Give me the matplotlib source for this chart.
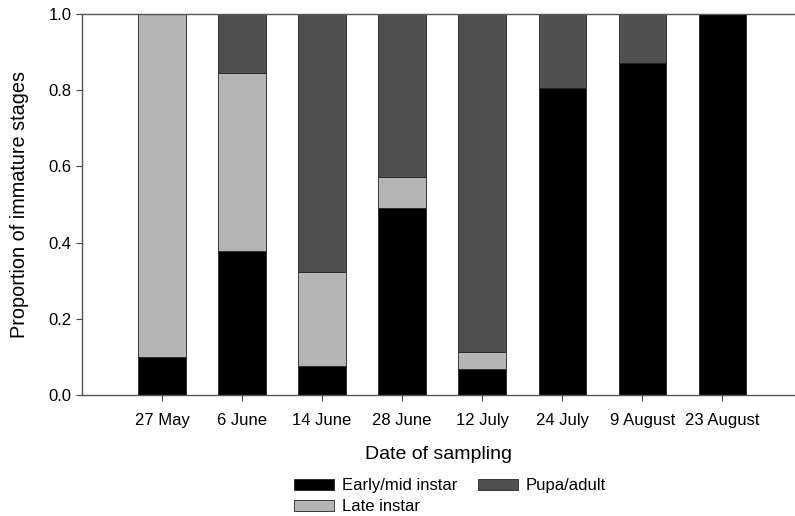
import numpy as np
import matplotlib
matplotlib.use("Agg")
import matplotlib.pyplot as plt

plt.rcParams['font.family'] = ['Liberation Sans', 'DejaVu Sans']

# Sampling dates and stage proportions
dates = ["27 May", "6 June", "14 June", "28 June", "12 July", "24 July", "9 August", "23 August"]
early_mid = [0.10, 0.378, 0.077, 0.49, 0.069, 0.807, 0.872, 1.0]
late = [0.90, 0.466, 0.247, 0.083, 0.044, 0.0, 0.0, 0.0]
pupa_adult = [0.0, 0.156, 0.676, 0.427, 0.887, 0.193, 0.128, 0.0]

fig = plt.figure(figsize=(7.95, 5.16), dpi=100)
ax = fig.add_axes([0.1031, 0.2345, 0.8959, 0.7384])

x = np.arange(len(dates))
w = 0.59
ax.bar(x, early_mid, w, color='#000000', edgecolor='#222222', linewidth=0.6, label='Early/mid instar')
ax.bar(x, late, w, bottom=early_mid, color='#b4b4b4', edgecolor='#222222', linewidth=0.6, label='Late instar')
bottom2 = np.array(early_mid) + np.array(late)
ax.bar(x, pupa_adult, w, bottom=bottom2, color='#505050', edgecolor='#222222', linewidth=0.6, label='Pupa/adult')

ax.set_xlim(-1.0, 7.9)
ax.set_ylim(0, 1.0)
ax.set_yticks([0, 0.2, 0.4, 0.6, 0.8, 1.0])
ax.set_yticklabels(['0.0', '0.2', '0.4', '0.6', '0.8', '1.0'])
ax.set_xticks(x)
ax.set_xticklabels(dates)
ax.tick_params(axis='both', labelsize=12, color='#444444', length=4, width=0.8)
ax.tick_params(axis='x', pad=9)

for s in ['left', 'bottom', 'top']:
    ax.spines[s].set_color('#555555')
    ax.spines[s].set_linewidth(1.0)
ax.spines['right'].set_visible(False)

ax.set_xlabel('Date of sampling', fontsize=14, labelpad=13)
ax.set_ylabel('Proportion of immature stages', fontsize=14.3, labelpad=14)

fig.legend(loc='center', bbox_to_anchor=(0.566, 0.038), ncol=2, frameon=False,
           fontsize=12, handlelength=2.4, handleheight=0.6, handletextpad=0.5,
           columnspacing=1.2, labelspacing=0.35)

fig.savefig('out.png', dpi=100)
